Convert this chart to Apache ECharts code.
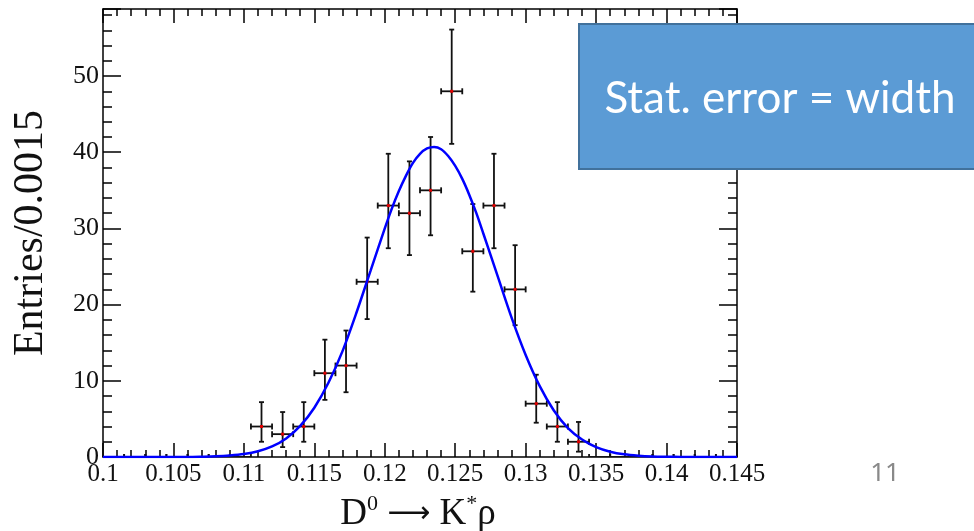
<!DOCTYPE html>
<html>
<head>
<meta charset="utf-8">
<script src="https://cdn.jsdelivr.net/npm/echarts@6.0.0/dist/echarts.min.js"></script>
<style>
html, body { margin: 0; padding: 0; background: #fff; }
#chart { width: 974px; height: 531px; }
</style>
</head>
<body>
<div id="chart"></div>
<script>
var myChart = echarts.init(document.getElementById('chart'));

// histogram bins (width 0.0015)
const binWidth = 0.0015;
const binCenters = [0.10075, 0.10225, 0.10375, 0.10525, 0.10675, 0.10825, 0.10975, 0.11125, 0.11275, 0.11425,
    0.11575, 0.11725, 0.11875, 0.12025, 0.12175, 0.12325, 0.12475, 0.12625, 0.12775, 0.12925,
    0.13075, 0.13225, 0.13375, 0.13525, 0.13675, 0.13825, 0.13975, 0.14125, 0.14275, 0.14425];
const counts = [0, 0, 0, 0, 0, 0, 0, 4, 3, 4, 11, 12, 23, 33, 32, 35, 48, 27, 33, 22, 7, 4, 2, 0, 0, 0, 0, 0, 0, 0];
const errLow = [0, 0, 0, 0, 0, 0, 0, 2.0, 1.3, 2.0, 7.5, 8.5, 18.1, 27.4, 26.5, 29.1, 41.1, 21.7, 27.4, 17.3, 4.5, 2.0, 0.7, 0, 0, 0, 0, 0, 0, 0];
const errHigh = [0, 0, 0, 0, 0, 0, 0, 7.2, 5.9, 7.2, 15.4, 16.6, 28.8, 39.8, 38.8, 42.0, 56.1, 33.2, 39.8, 27.8, 10.8, 7.2, 4.6, 0, 0, 0, 0, 0, 0, 0];

// fitted curve
const curveX = [0.100, 0.101, 0.102, 0.103, 0.104, 0.105, 0.106, 0.107, 0.108, 0.109,
    0.110, 0.111, 0.112, 0.113, 0.114, 0.115, 0.116, 0.117, 0.118, 0.119,
    0.120, 0.1205, 0.121, 0.1215, 0.122, 0.1225, 0.123, 0.1235, 0.124, 0.1245,
    0.125, 0.1255, 0.126, 0.1265, 0.127, 0.128, 0.129,
    0.130, 0.131, 0.132, 0.133, 0.134, 0.135, 0.136, 0.137, 0.138, 0.139,
    0.140, 0.141, 0.142, 0.143, 0.144, 0.145];
const curveY = [0, 0, 0, 0, 0, 0.01, 0.01, 0.04, 0.09, 0.2,
    0.39, 0.75, 1.38, 2.44, 4.08, 6.47, 9.74, 13.9, 19.0, 24.5,
    30.0, 32.6, 34.9, 36.9, 38.6, 39.8, 40.5, 40.7, 40.4, 39.5,
    38.2, 36.5, 34.4, 32.0, 29.3, 23.8, 18.3,
    13.4, 9.3, 6.1, 3.8, 2.3, 1.3, 0.7, 0.35, 0.17, 0.07,
    0.03, 0.01, 0, 0, 0, 0];

const xTicks = { min: 0.1, max: 0.145, interval: 0.005 };
const yTicks = { min: 0, max: 58.8, interval: 10 };

const serif = '"Liberation Serif", "DejaVu Serif", serif';

const histData = binCenters.map((x, i) => [x, counts[i], errLow[i], errHigh[i]]);
const curveData = curveX.map((x, i) => [x, curveY[i]]);

function renderErrorBar(params, api) {
    const x = api.value(0), y = api.value(1), lo = api.value(2), hi = api.value(3);
    const pL = api.coord([x - binWidth / 2, y]);
    const pR = api.coord([x + binWidth / 2, y]);
    const pC = api.coord([x, y]);
    const style = { stroke: '#111', lineWidth: 1.8 };
    const kids = [
        { type: 'line', shape: { x1: pL[0], y1: pL[1], x2: pR[0], y2: pR[1] }, style: style },
        { type: 'line', shape: { x1: pL[0], y1: pL[1] - 3, x2: pL[0], y2: pL[1] + 3 }, style: style },
        { type: 'line', shape: { x1: pR[0], y1: pR[1] - 3, x2: pR[0], y2: pR[1] + 3 }, style: style }
    ];
    if (hi > lo) {
        const pLo = api.coord([x, lo]);
        const pHi = api.coord([x, hi]);
        kids.push({ type: 'line', shape: { x1: pC[0], y1: pLo[1], x2: pC[0], y2: pHi[1] }, style: style });
        kids.push({ type: 'line', shape: { x1: pC[0] - 2.5, y1: pLo[1], x2: pC[0] + 2.5, y2: pLo[1] }, style: style });
        kids.push({ type: 'line', shape: { x1: pC[0] - 2.5, y1: pHi[1], x2: pC[0] + 2.5, y2: pHi[1] }, style: style });
        kids.push({ type: 'rect', shape: { x: pC[0] - 1.5, y: pC[1] - 1.5, width: 3, height: 3 }, style: { fill: '#e00000' } });
    }
    return { type: 'group', children: kids };
}

const axisLine = { show: true, onZero: false, lineStyle: { color: '#000', width: 1.5 } };
const tickStyle = { color: '#000', width: 1.5 };

const option = {
    animation: false,
    backgroundColor: '#fff',
    grid: { left: 103, right: 237, top: 9, bottom: 74 },
    xAxis: [{
        type: 'value', position: 'bottom',
        min: xTicks.min, max: xTicks.max, interval: xTicks.interval,
        axisLine: axisLine,
        axisTick: { inside: true, length: 14, lineStyle: tickStyle },
        minorTick: { show: true, splitNumber: 5, length: 7, lineStyle: tickStyle },
        splitLine: { show: false },
        axisLabel: {
            margin: 5, color: '#111', fontFamily: serif, fontSize: 25,
            formatter: v => String(+v.toFixed(3))
        }
    }, {
        type: 'value', position: 'top',
        min: xTicks.min, max: xTicks.max, interval: xTicks.interval,
        axisLine: axisLine,
        axisTick: { inside: true, length: 14, lineStyle: tickStyle },
        minorTick: { show: true, splitNumber: 5, length: 7, lineStyle: tickStyle },
        splitLine: { show: false },
        axisLabel: { show: false }
    }],
    yAxis: [{
        type: 'value', position: 'left',
        min: yTicks.min, max: yTicks.max, interval: yTicks.interval,
        axisLine: axisLine,
        axisTick: { inside: true, length: 18, lineStyle: tickStyle },
        minorTick: { show: true, splitNumber: 5, length: 9, lineStyle: tickStyle },
        splitLine: { show: false },
        axisLabel: {
            margin: 4, color: '#111', fontFamily: serif, fontSize: 26,
            formatter: v => (Math.abs(v % 10) < 1e-6 ? String(v) : '')
        }
    }, {
        type: 'value', position: 'right',
        min: yTicks.min, max: yTicks.max, interval: yTicks.interval,
        axisLine: axisLine,
        axisTick: { inside: true, length: 18, lineStyle: tickStyle },
        minorTick: { show: true, splitNumber: 5, length: 9, lineStyle: tickStyle },
        splitLine: { show: false },
        axisLabel: { show: false }
    }],
    series: [{
        type: 'custom',
        xAxisIndex: 0, yAxisIndex: 0,
        renderItem: renderErrorBar,
        data: histData,
        clip: true,
        z: 2
    }, {
        type: 'line',
        xAxisIndex: 0, yAxisIndex: 0,
        data: curveData,
        smooth: 0.3,
        showSymbol: false,
        lineStyle: { color: '#0000ff', width: 2.5 },
        z: 3
    }],
    graphic: [{
        type: 'text',
        x: 31, y: 233,
        rotation: Math.PI / 2,
        style: {
            text: 'Entries/0.0015',
            font: '42px ' + serif,
            fill: '#111',
            align: 'center', verticalAlign: 'middle'
        }
    }, {
        type: 'text',
        x: 418, y: 514,
        style: {
            text: 'D{sup|0} {arr|\u27f6} K{sup|*}\u03c1',
            font: '37px ' + serif,
            fill: '#111',
            align: 'center', verticalAlign: 'middle',
            rich: {
                sup: { fontFamily: serif, fontSize: 22, verticalAlign: 'bottom', padding: [0, 0, 20, 0], fill: '#111' },
                arr: { fontFamily: '"DejaVu Sans", sans-serif', fontSize: 30, fill: '#111' }
            }
        }
    }, {
        type: 'rect',
        shape: { x: 579, y: 24, width: 410, height: 145 },
        style: { fill: '#5b9bd5', stroke: '#41719c', lineWidth: 2 },
        z: 10
    }, {
        type: 'text',
        x: 780, y: 99,
        style: {
            text: 'Stat. error = width',
            font: '44px Lato, "Open Sans", sans-serif',
            fill: '#ffffff',
            align: 'center', verticalAlign: 'middle'
        },
        z: 11
    }, {
        type: 'text',
        x: 885, y: 474,
        style: {
            text: '11',
            font: '26px "Noto Sans", sans-serif',
            fill: '#898989',
            align: 'center', verticalAlign: 'middle'
        }
    }]
};

myChart.setOption(option);
</script>
</body>
</html>
